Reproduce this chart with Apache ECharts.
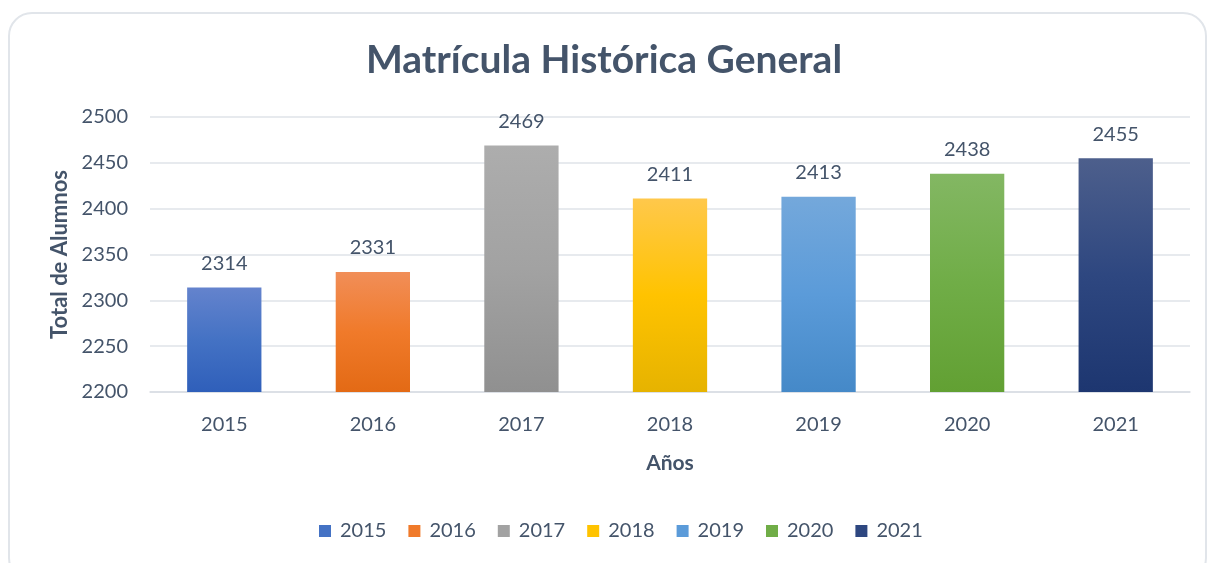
<!DOCTYPE html>
<html>
<head>
<meta charset="utf-8">
<script src="https://cdn.jsdelivr.net/npm/echarts@6/dist/echarts.min.js"></script>
<style>
html,body{margin:0;padding:0;background:#fff;overflow:hidden;}
#frame{position:absolute;left:8px;top:12px;width:1199px;height:570px;border:2px solid #e1e5ea;border-radius:24px;box-sizing:border-box;}
#chart{position:absolute;left:0;top:0;width:1208px;height:563px;}
</style>
</head>
<body>
<div id="frame"></div>
<div id="chart"></div>
<script>
const years = ['2015','2016','2017','2018','2019','2020','2021'];
const values = [2314, 2331, 2469, 2411, 2413, 2438, 2455];
const yTicks = [2200, 2250, 2300, 2350, 2400, 2450, 2500];
const gradients = [
  ['#6483cd','#4472c4','#2f5fba'],
  ['#f18e58','#f07a2a','#e36a15'],
  ['#adadad','#a2a2a2','#909090'],
  ['#ffc84b','#ffc300','#e6b300'],
  ['#74a8db','#5b9bd9','#4589c8'],
  ['#83b763','#70ad47','#62a033'],
  ['#4d5f8c','#2e4780','#1d3670']
];
const txt = '#44546a';
const font = 'Lato, "Open Sans", sans-serif';
const chart = echarts.init(document.getElementById('chart'));
const series = years.map((y, i) => ({
  name: y,
  type: 'bar',
  stack: 'all',
  barWidth: '50%',
  data: values.map((v, j) => j === i ? v : null),
  itemStyle: {
    color: new echarts.graphic.LinearGradient(0, 0, 0, 1, [
      {offset: 0, color: gradients[i][0]},
      {offset: 0.5, color: gradients[i][1]},
      {offset: 1, color: gradients[i][2]}
    ])
  },
  label: {show: true, position: 'top', distance: 14, color: txt, fontSize: 20, fontFamily: font}
}));
chart.setOption({
  animation: false,
  title: {text: 'Matrícula Histórica General', left: 'center', top: 36,
    textStyle: {color: txt, fontSize: 39, fontWeight: 'bold', fontFamily: font}},
  legend: {
    bottom: 17, left: 314, itemWidth: 12, itemHeight: 12, itemGap: 22,
    icon: 'rect',
    textStyle: {color: txt, fontSize: 20, fontFamily: font, padding: [0,0,0,4]},
    data: years.map((y, i) => ({name: y, itemStyle: {color: gradients[i][1]}}))
  },
  grid: {left: 150, right: 18, top: 117, bottom: 171},
  xAxis: {
    type: 'category', data: years,
    name: 'Años', nameLocation: 'middle', nameGap: 61,
    nameTextStyle: {color: txt, fontSize: 21, fontWeight: 'bold', fontFamily: font},
    axisLine: {lineStyle: {color: '#d9dde3', width: 1.5}},
    axisTick: {show: false},
    axisLabel: {color: txt, fontSize: 20, fontFamily: font, margin: 23}
  },
  yAxis: {
    type: 'value', min: 2200, max: 2500, interval: 50,
    name: 'Total de Alumnos', nameLocation: 'middle', nameGap: 79, nameRotate: 90,
    nameTextStyle: {color: txt, fontSize: 22, fontWeight: 'bold', fontFamily: font},
    axisLine: {show: false}, axisTick: {show: false},
    axisLabel: {color: txt, fontSize: 20, fontFamily: font, margin: 22,
      formatter: v => yTicks.includes(v) ? String(v) : ''},
    splitLine: {lineStyle: {color: '#dfe3e8', width: 1.5}}
  },
  series: series
});
</script>
</body>
</html>
